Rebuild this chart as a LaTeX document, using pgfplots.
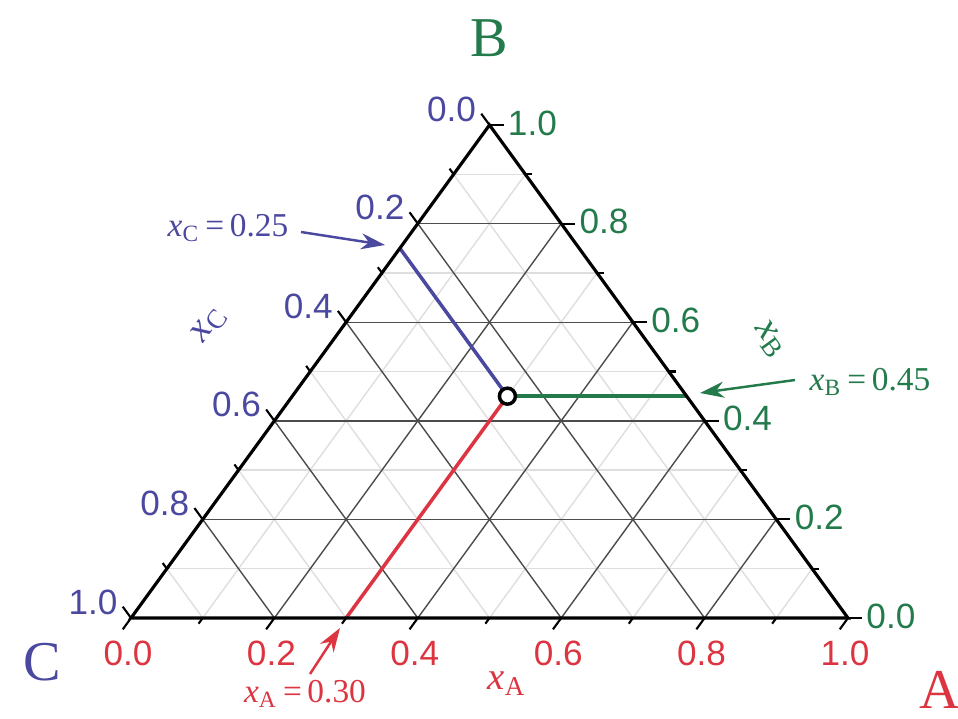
\documentclass[border=0pt]{standalone}
\usepackage{fontspec}
\setmainfont{Liberation Sans}
\newfontfamily\seriffont{Liberation Serif}
\usepackage{pgfplots}
\usepackage{pgfplotstable}
\pgfplotsset{compat=1.18}
\usetikzlibrary{arrows.meta}
\definecolor{cA}{HTML}{DC3440}
\definecolor{cB}{HTML}{237A4B}
\definecolor{cC}{HTML}{4B48A0}
\tikzset{ticklab/.style={font=\fontsize{10}{11}\selectfont, inner sep=0.5pt}}

% ternary values, columns A B C (mole fractions)
\pgfplotstableread{
A    B    C
0.30 0.45 0.25
}\pointtab
\pgfplotstableread{
A    B    C
0.00 0.75 0.25
0.30 0.45 0.25
}\lineC
\pgfplotstableread{
A    B    C
0.55 0.45 0.00
0.30 0.45 0.25
}\lineB
\pgfplotstableread{
A    B    C
0.30 0.00 0.70
0.30 0.45 0.25
}\lineA

\newcommand{\xsub}[1]{{\seriffont\itshape x}\textsubscript{\seriffont\upshape #1}}
\begin{document}
\begin{tikzpicture}[x=1mm,y=1mm]
\path[use as bounding box] (-13.1,-10) rectangle (82.7,61.8);
\begin{axis}[
  at={(0,0)}, anchor=south west,
  scale only axis, width=71.7mm, height=49.3mm,
  xmin=0, xmax=1, ymin=0, ymax=1,
  axis lines=none, clip=false,
]
% minor grid
\pgfplotsinvokeforeach{0.1,0.3,0.5,0.7,0.9}{
  \draw[black!13, line width=0.4pt] (axis cs:#1,0) -- (axis cs:{#1+(1-#1)/2},{1-#1});
  \draw[black!13, line width=0.4pt] (axis cs:{#1/2},#1) -- (axis cs:{1-#1/2},#1);
  \draw[black!13, line width=0.4pt] (axis cs:{1-#1},0) -- (axis cs:{(1-#1)/2},{1-#1});
}
% major grid
\pgfplotsinvokeforeach{0.2,0.4,0.6,0.8}{
  \draw[black!70, line width=0.4pt] (axis cs:#1,0) -- (axis cs:{#1+(1-#1)/2},{1-#1});
  \draw[black!70, line width=0.4pt] (axis cs:{#1/2},#1) -- (axis cs:{1-#1/2},#1);
  \draw[black!70, line width=0.4pt] (axis cs:{1-#1},0) -- (axis cs:{(1-#1)/2},{1-#1});
}
% composition lines
\addplot[cC, line width=1pt] table[x expr=\thisrow{A}+0.5*\thisrow{B}, y=B] {\lineC};
\addplot[cB, line width=1pt] table[x expr=\thisrow{A}+0.5*\thisrow{B}, y=B] {\lineB};
\addplot[cA, line width=1pt] table[x expr=\thisrow{A}+0.5*\thisrow{B}, y=B] {\lineA};
% triangle
\draw[black, line width=0.9pt, line join=miter] (axis cs:0,0) -- (axis cs:1,0) -- (axis cs:0.5,1) -- cycle;
% minor ticks
\pgfplotsinvokeforeach{0.1,0.3,0.5,0.7,0.9}{
  \draw[black, line width=0.6pt] (axis cs:#1,0) -- ++(234:0.7mm);
  \draw[black, line width=0.6pt] (axis cs:{1-#1/2},#1) -- ++(0:0.7mm);
  \draw[black, line width=0.6pt] (axis cs:{(1-#1)/2},{1-#1}) -- ++(126:0.7mm);
}
% major ticks and labels
\pgfplotsinvokeforeach{0.0,0.2,0.4,0.6,0.8,1.0}{
  \draw[black, line width=0.6pt] (axis cs:#1,0) -- ++(234:1.4mm);
  \draw[black, line width=0.6pt] (axis cs:{1-#1/2},#1) -- ++(0:1.4mm);
  \draw[black, line width=0.6pt] (axis cs:{(1-#1)/2},{1-#1}) -- ++(126:1.4mm);
  \node[ticklab, text=cA, anchor=north] at ([xshift=-0.3mm,yshift=-2.0mm]axis cs:#1,0) {#1};
  \node[ticklab, text=cB, anchor=west] at ([xshift=1.6mm,yshift=0.2mm]axis cs:{1-#1/2},#1) {#1};
  \node[ticklab, text=cC, anchor=east] at ([xshift=-1.1mm,yshift=1.6mm]axis cs:{(1-#1)/2},{1-#1}) {#1};
}
% composition point
\addplot[only marks, mark=*, mark size=0.8mm,
  mark options={fill=white, draw=black, line width=1pt}]
  table[x expr=\thisrow{A}+0.5*\thisrow{B}, y=B] {\pointtab};
\end{axis}
% corner and axis labels
\node[cB, font=\seriffont\fontsize{16}{16}\selectfont] at (35.8,58.0) {B};
\node[cC, font=\seriffont\fontsize{16}{16}\selectfont] at (-8.9,-4.4) {C};
\node[cA, font=\seriffont\fontsize{16}{16}\selectfont] at (80.9,-7.2) {A};
\node[cA, font=\fontsize{11}{12}\selectfont] at (37.6,-6.6) {\xsub{A}};
\node[cB, font=\fontsize{11}{12}\selectfont, rotate=-54] at (63.9,27.8) {\xsub{B}};
\node[cC, font=\fontsize{11}{12}\selectfont, rotate=54] at (7.9,29.3) {\xsub{C}};
% annotations
\node[cC, font=\seriffont\fontsize{9.5}{10}\selectfont] at (9.7,39.0) {\xsub{C}\,=\,0.25};
\draw[cC, line width=0.7pt, -{Stealth[length=2.4mm,width=1.6mm]}] (17.0,38.6) -- (25.4,37.3);
\node[cB, font=\seriffont\fontsize{9.5}{10}\selectfont] at (73.9,23.6) {\xsub{B}\,=\,0.45};
\draw[cB, line width=0.7pt, -{Stealth[length=2.4mm,width=1.6mm]}] (66.4,23.8) -- (56.9,22.5);
\node[cA, font=\seriffont\fontsize{9.5}{10}\selectfont] at (17.4,-7.6) {\xsub{A}\,=\,0.30};
\draw[cA, line width=0.7pt, -{Stealth[length=2.4mm,width=1.6mm]}] (17.9,-5.6) -- (20.9,-1.0);
\end{tikzpicture}
\end{document}
